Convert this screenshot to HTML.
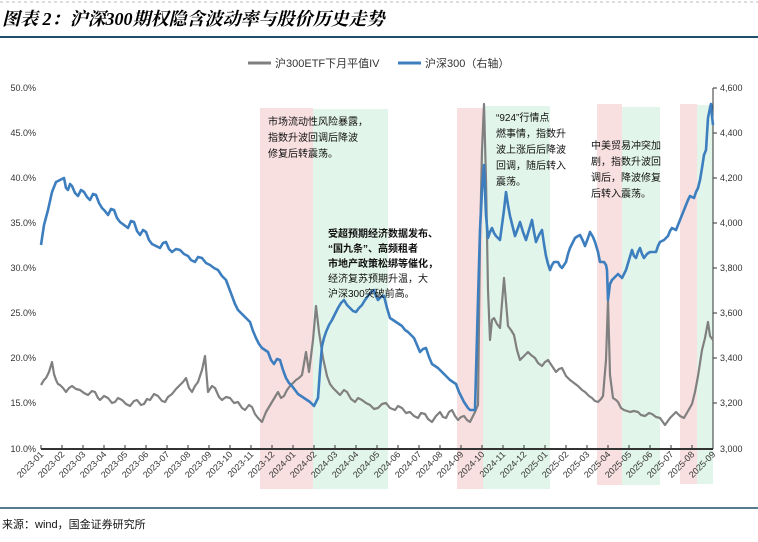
<!DOCTYPE html>
<html><head><meta charset="utf-8"><style>
body{margin:0;width:758px;height:537px;background:#fff;overflow:hidden;font-family:"Liberation Sans","Noto Sans CJK SC",sans-serif;}
</style></head><body>
<svg width="758" height="537" xmlns="http://www.w3.org/2000/svg" font-family="Liberation Sans, Noto Sans CJK SC, sans-serif">
<line x1="0" y1="2" x2="758" y2="2" stroke="#bbb" stroke-dasharray="3,3"/>
<text x="2" y="25" font-size="18" font-weight="bold" font-style="italic" font-family="Liberation Serif, Noto Serif CJK SC, serif">图表 2：沪深300期权隐含波动率与股价历史走势</text>
<line x1="0" y1="37" x2="758" y2="37" stroke="#1f4e6b" stroke-width="2"/>
<rect x="260" y="108" width="53" height="381" fill="#f8e0e0"/>
<rect x="313" y="109" width="75" height="380" fill="#e2f5ea"/>
<rect x="457" y="108" width="26" height="381" fill="#f8e0e0"/>
<rect x="483" y="106" width="67" height="383" fill="#e2f5ea"/>
<rect x="597" y="104" width="25" height="381" fill="#f8e0e0"/>
<rect x="622" y="107" width="38" height="378" fill="#e2f5ea"/>
<rect x="680" y="104" width="17" height="380" fill="#f8e0e0"/>
<rect x="697" y="105" width="16" height="379" fill="#e2f5ea"/>
<line x1="248" y1="63" x2="271" y2="63" stroke="#7f7f7f" stroke-width="3"/>
<text x="275" y="67" font-size="11" fill="#333">沪300ETF下月平值IV</text>
<line x1="398" y1="63" x2="421" y2="63" stroke="#3d7ebf" stroke-width="3"/>
<text x="425" y="67" font-size="11" fill="#333">沪深300（右轴）</text>
<g font-size="9" fill="#333">
<text x="36" y="91" text-anchor="end">50.0%</text>
<text x="36" y="136" text-anchor="end">45.0%</text>
<text x="36" y="181" text-anchor="end">40.0%</text>
<text x="36" y="226" text-anchor="end">35.0%</text>
<text x="36" y="271" text-anchor="end">30.0%</text>
<text x="36" y="316" text-anchor="end">25.0%</text>
<text x="36" y="361" text-anchor="end">20.0%</text>
<text x="36" y="406" text-anchor="end">15.0%</text>
<text x="36" y="452" text-anchor="end">10.0%</text>
<text x="720" y="91">4,600</text>
<text x="720" y="136">4,400</text>
<text x="720" y="181">4,200</text>
<text x="720" y="226">4,000</text>
<text x="720" y="271">3,800</text>
<text x="720" y="316">3,600</text>
<text x="720" y="361">3,400</text>
<text x="720" y="406">3,200</text>
<text x="720" y="452">3,000</text>
</g>
<line x1="713" y1="88" x2="713" y2="449" stroke="#333"/>
<g stroke="#333"><line x1="713" y1="88" x2="717" y2="88"/><line x1="713" y1="133" x2="717" y2="133"/><line x1="713" y1="178" x2="717" y2="178"/><line x1="713" y1="223" x2="717" y2="223"/><line x1="713" y1="268" x2="717" y2="268"/><line x1="713" y1="313" x2="717" y2="313"/><line x1="713" y1="358" x2="717" y2="358"/><line x1="713" y1="403" x2="717" y2="403"/></g>
<line x1="41" y1="449" x2="713" y2="449" stroke="#333" stroke-width="2"/>
<path stroke="#333" d="M41 445V449M62 445V449M83 445V449M104 445V449M125 445V449M146 445V449M167 445V449M188 445V449M209 445V449M230 445V449M251 445V449M272 445V449M293 445V449M314 445V449M335 445V449M356 445V449M377 445V449M398 445V449M419 445V449M440 445V449M461 445V449M482 445V449M503 445V449M524 445V449M545 445V449M566 445V449M587 445V449M608 445V449M629 445V449M650 445V449M671 445V449M692 445V449M713 445V449"/>
<g font-size="9" fill="#333" text-anchor="end">
<text transform="translate(44,455) rotate(-45)">2023-01</text>
<text transform="translate(65,455) rotate(-45)">2023-02</text>
<text transform="translate(86,455) rotate(-45)">2023-03</text>
<text transform="translate(107,455) rotate(-45)">2023-04</text>
<text transform="translate(128,455) rotate(-45)">2023-05</text>
<text transform="translate(149,455) rotate(-45)">2023-06</text>
<text transform="translate(170,455) rotate(-45)">2023-07</text>
<text transform="translate(191,455) rotate(-45)">2023-08</text>
<text transform="translate(212,455) rotate(-45)">2023-09</text>
<text transform="translate(233,455) rotate(-45)">2023-10</text>
<text transform="translate(254,455) rotate(-45)">2023-11</text>
<text transform="translate(275,455) rotate(-45)">2023-12</text>
<text transform="translate(296,455) rotate(-45)">2024-01</text>
<text transform="translate(317,455) rotate(-45)">2024-02</text>
<text transform="translate(338,455) rotate(-45)">2024-03</text>
<text transform="translate(359,455) rotate(-45)">2024-04</text>
<text transform="translate(380,455) rotate(-45)">2024-05</text>
<text transform="translate(401,455) rotate(-45)">2024-06</text>
<text transform="translate(422,455) rotate(-45)">2024-07</text>
<text transform="translate(443,455) rotate(-45)">2024-08</text>
<text transform="translate(464,455) rotate(-45)">2024-09</text>
<text transform="translate(485,455) rotate(-45)">2024-10</text>
<text transform="translate(506,455) rotate(-45)">2024-11</text>
<text transform="translate(527,455) rotate(-45)">2024-12</text>
<text transform="translate(548,455) rotate(-45)">2025-01</text>
<text transform="translate(569,455) rotate(-45)">2025-02</text>
<text transform="translate(590,455) rotate(-45)">2025-03</text>
<text transform="translate(611,455) rotate(-45)">2025-04</text>
<text transform="translate(632,455) rotate(-45)">2025-05</text>
<text transform="translate(653,455) rotate(-45)">2025-06</text>
<text transform="translate(674,455) rotate(-45)">2025-07</text>
<text transform="translate(695,455) rotate(-45)">2025-08</text>
<text transform="translate(716,455) rotate(-45)">2025-09</text>
</g>
<polyline fill="none" stroke="#808080" stroke-width="2.2" stroke-linejoin="round" points="41,385 44,380 46,378 49,372 52,362 54,374 56,380 58,384 60,385 63,388 66,392 69,388 72,386 76,389 80,390 84,393 88,395 92,391 95,392 98,398 100,400 104,396 108,398 112,403 115,402 118,398 122,400 126,404 130,406 134,401 137,400 141,405 144,404 147,399 150,400 154,394 158,396 162,401 165,402 168,397 172,394 176,389 180,385 183,382 186,378 189,388 192,392 195,386 198,382 202,370 205,356 208,392 212,386 215,388 219,397 222,400 226,397 230,398 234,403 238,402 242,408 245,410 249,405 252,407 255,414 258,418 262,422 266,412 269,407 272,402 275,397 278,392 281,398 284,396 287,390 290,386 293,383 296,380 299,378 302,375 306,352 309,372 313,340 316,306 319,332 323,358 327,376 330,384 333,388 337,392 340,395 344,390 347,392 351,399 355,402 358,398 362,400 366,403 370,405 374,409 378,408 382,404 386,403 390,408 395,410 398,406 402,408 406,413 410,412 414,416 418,418 421,413 425,414 428,419 432,422 436,416 440,412 443,417 446,418 449,412 452,410 455,416 458,420 461,417 464,416 467,420 470,422 475,412 478,405 480,240 482,150 484,104 486,180 488,290 490,340 492,320 494,318 497,324 500,328 504,278 508,326 511,330 514,335 517,350 520,360 524,356 528,352 531,355 535,358 538,363 542,366 545,362 548,360 552,366 556,372 559,369 562,368 566,376 570,380 574,383 578,386 582,390 585,392 589,396 592,398 595,401 598,402 601,399 603,396 606,360 608,300 610,375 613,398 616,400 618,402 621,408 624,410 627,411 630,412 634,411 638,412 641,415 645,416 649,413 652,414 656,417 660,418 665,425 670,418 673,415 676,412 680,416 684,418 688,411 692,404 695,392 698,376 702,350 705,338 708,322 710,336 713,340"/>
<polyline fill="none" stroke="#3d7ebf" stroke-width="2.6" stroke-linejoin="round" points="41,245 44,225 48,210 52,192 56,182 60,180 64,178 66,188 68,190 70,184 72,186 75,193 78,196 81,190 84,192 87,197 90,200 93,194 96,195 99,203 102,208 105,211 108,215 111,209 114,210 117,218 120,222 124,225 128,228 131,221 134,222 137,231 140,235 143,230 146,232 149,240 152,244 156,246 160,248 163,243 166,242 169,249 172,252 176,249 180,250 184,254 188,256 191,260 195,262 198,257 202,258 206,263 210,265 214,268 218,270 222,276 226,280 229,288 232,296 235,304 238,310 241,313 244,316 247,319 250,322 253,331 256,338 259,344 262,348 265,350 268,352 271,360 274,364 277,359 280,360 283,370 286,378 289,383 292,386 295,390 298,394 301,396 304,398 307,400 310,402 314,406 318,398 320,370 322,346 324,338 326,332 329,325 332,320 335,314 338,308 341,303 344,300 347,305 350,308 353,311 356,312 359,308 362,305 365,300 368,296 371,292 374,290 376,296 378,300 381,297 384,296 387,308 390,318 393,320 396,322 399,324 402,326 405,330 408,332 411,335 414,338 417,345 420,352 423,349 426,348 429,357 432,364 435,366 438,368 441,371 444,374 447,377 450,380 453,382 456,384 459,392 462,398 464,402 466,405 468,408 470,410 475,410 478,300 480,230 482,190 484,165 486,215 488,238 490,232 492,228 494,233 496,236 498,238 500,240 502,225 504,210 506,192 508,205 510,216 513,228 515,236 518,228 520,222 523,232 526,240 529,230 532,220 534,232 536,242 539,235 542,230 544,244 546,256 548,264 550,270 552,265 554,262 556,262 558,262 560,266 562,268 564,265 566,262 568,254 570,248 573,242 575,238 578,236 580,235 583,241 585,246 588,238 590,232 593,237 595,242 598,252 600,262 602,262 604,262 606,265 607,270 608,300 610,284 612,280 614,278 616,276 618,274 620,276 622,278 624,274 626,270 629,260 632,250 634,256 636,258 638,252 640,248 642,254 644,258 647,254 650,252 653,252 656,252 658,246 660,242 662,241 664,240 666,238 668,236 670,231 672,228 674,229 676,230 678,225 680,220 682,215 684,210 686,205 688,200 690,196 692,197 694,198 696,192 698,188 700,180 702,168 704,155 706,150 708,118 710,108 711,104 712,116 713,125"/>
<g font-size="10" fill="#111">
<text x="268" y="125">市场流动性风险暴露，</text>
<text x="268" y="141">指数升波回调后降波</text>
<text x="268" y="157">修复后转震荡。</text>
<text x="328" y="237" font-weight="bold">受超预期经济数据发布、</text>
<text x="328" y="252" font-weight="bold">“国九条”、高频租者</text>
<text x="328" y="267" font-weight="bold">市地产政策松绑等催化，</text>
<text x="328" y="282">经济复苏预期升温，大</text>
<text x="328" y="297">沪深300突破前高。</text>
<text x="496" y="121">“924”行情点</text>
<text x="496" y="137">燃事情，指数升</text>
<text x="496" y="153">波上涨后后降波</text>
<text x="496" y="169">回调，随后转入</text>
<text x="496" y="185">震荡。</text>
<text x="591" y="149">中美贸易冲突加</text>
<text x="591" y="165">剧，指数升波回</text>
<text x="591" y="181">调后，降波修复</text>
<text x="591" y="197">后转入震荡。</text>
</g>
<line x1="0" y1="508" x2="758" y2="508" stroke="#1f4e6b" stroke-width="1.5"/>
<text x="2" y="528" font-size="11" fill="#111">来源：wind，国金证券研究所</text>
</svg>
</body></html>
